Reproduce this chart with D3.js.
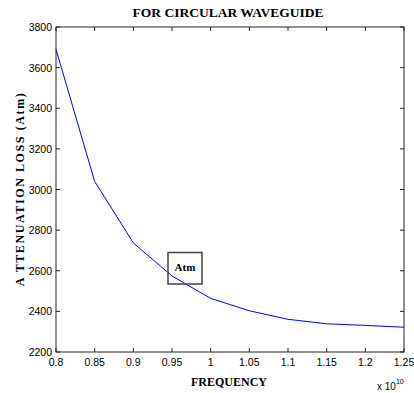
<!DOCTYPE html>
<html>
<head>
<meta charset="utf-8">
<script src="https://cdn.jsdelivr.net/npm/d3@7"></script>
<style>
  body { margin: 0; background: #fff; }
  svg { display: block; }
</style>
</head>
<body>
<script>
// frequency in units of 1e10 Hz
var freq = [0.8, 0.85, 0.9, 0.95, 1.0, 1.05, 1.1, 1.15, 1.2, 1.25];
var atm = [3690, 3040, 2737, 2574, 2464, 2403, 2361, 2339, 2331, 2322];
var xTicks = [0.8, 0.85, 0.9, 0.95, 1, 1.05, 1.1, 1.15, 1.2, 1.25];
var yTicks = [2200, 2400, 2600, 2800, 3000, 3200, 3400, 3600, 3800];

var width = 414, height = 393;
var plotL = 56, plotR = 404, plotT = 27, plotB = 352;

var svg = d3.select("body")
    .append("svg")
    .attr("width", width)
    .attr("height", height);

var x = d3.scaleLinear().domain([0.8, 1.25]).range([plotL, plotR]);
var y = d3.scaleLinear().domain([2200, 3800]).range([plotB, plotT]);

// box and inward ticks on all sides
svg.append("rect")
    .attr("x", plotL).attr("y", plotT)
    .attr("width", plotR - plotL).attr("height", plotB - plotT)
    .attr("fill", "none").attr("stroke", "#222").attr("stroke-width", 1);

var tk = 4;
var g = svg.append("g").attr("stroke", "#222").attr("stroke-width", 1);
xTicks.forEach(function (t) {
    g.append("line").attr("x1", x(t)).attr("x2", x(t)).attr("y1", plotB).attr("y2", plotB - tk);
    g.append("line").attr("x1", x(t)).attr("x2", x(t)).attr("y1", plotT).attr("y2", plotT + tk);
});
yTicks.forEach(function (t) {
    g.append("line").attr("x1", plotL).attr("x2", plotL + tk).attr("y1", y(t)).attr("y2", y(t));
    g.append("line").attr("x1", plotR).attr("x2", plotR - tk).attr("y1", y(t)).attr("y2", y(t));
});

svg.append("g")
    .selectAll("text")
    .data(xTicks)
    .enter()
    .append("text")
    .attr("x", function (d) { return x(d); })
    .attr("y", plotB + 14)
    .attr("text-anchor", "middle")
    .attr("font-family", "Liberation Sans, Arial, sans-serif")
    .attr("font-size", 10.5)
    .text(function (d) { return d; });

svg.append("g")
    .selectAll("text")
    .data(yTicks)
    .enter()
    .append("text")
    .attr("x", plotL - 4)
    .attr("y", function (d) { return y(d) + 4; })
    .attr("text-anchor", "end")
    .attr("font-family", "Liberation Sans, Arial, sans-serif")
    .attr("font-size", 10.5)
    .text(function (d) { return d; });

// data line
var line = d3.line()
    .x(function (d, i) { return x(freq[i]); })
    .y(function (d) { return y(d); });

svg.append("path")
    .datum(atm)
    .attr("d", line)
    .attr("fill", "none")
    .attr("stroke", "#0000ff")
    .attr("stroke-width", 1);

// annotation box
svg.append("rect")
    .attr("x", 168).attr("y", 252.5)
    .attr("width", 34).attr("height", 31.5)
    .attr("fill", "none").attr("stroke", "#444").attr("stroke-width", 1.5);
svg.append("text")
    .attr("x", 185).attr("y", 271)
    .attr("text-anchor", "middle")
    .attr("font-family", "Liberation Serif, Times New Roman, serif")
    .attr("font-weight", "bold")
    .attr("font-size", 11)
    .text("Atm");

// titles
svg.append("text")
    .attr("x", 228).attr("y", 17)
    .attr("text-anchor", "middle")
    .attr("font-family", "Liberation Serif, Times New Roman, serif")
    .attr("font-weight", "bold")
    .attr("font-size", 13.5)
    .text("FOR CIRCULAR WAVEGUIDE");

svg.append("text")
    .attr("x", 229).attr("y", 386)
    .attr("text-anchor", "middle")
    .attr("font-family", "Liberation Serif, Times New Roman, serif")
    .attr("font-weight", "bold")
    .attr("font-size", 12)
    .text("FREQUENCY");

svg.append("text")
    .attr("transform", "translate(24,189) rotate(-90)")
    .attr("text-anchor", "middle")
    .attr("font-family", "Liberation Serif, Times New Roman, serif")
    .attr("font-weight", "bold")
    .attr("font-size", 12)
    .attr("letter-spacing", 1.6)
    .text("A TTENUATION LOSS (Atm)");

var exp = svg.append("text")
    .attr("x", 377).attr("y", 390)
    .attr("font-family", "Liberation Sans, Arial, sans-serif")
    .attr("font-size", 10);
exp.append("tspan").text("x 10");
exp.append("tspan").attr("dy", -6).attr("font-size", 7).text("10");
</script>
</body>
</html>
